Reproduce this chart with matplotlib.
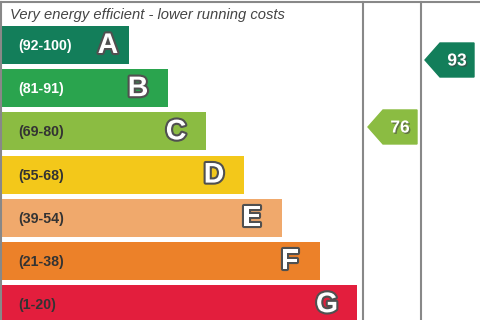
import matplotlib.pyplot as plt
from matplotlib.patches import Polygon
import matplotlib.patheffects as pe

plt.rcParams['font.family'] = ['Liberation Sans', 'DejaVu Sans']

# bands of the rating scale
letters = ['A', 'B', 'C', 'D', 'E', 'F', 'G']
ranges = ['(92-100)', '(81-91)', '(69-80)', '(55-68)', '(39-54)', '(21-38)', '(1-20)']
bar_len = [129, 168, 206, 244, 282, 320, 357]
colors = ['#137e5a', '#2aa44e', '#8bbc42', '#f3c81a', '#f0a96c', '#ec8129', '#e31e3d']
label_colors = ['white', 'white', '#333333', '#333333', '#333333', '#333333', '#333333']

# current / potential ratings
current = 76
potential = 93
current_col = colors[2]
potential_col = colors[0]

fig = plt.figure(figsize=(4.8, 3.2), dpi=100)
ax = fig.add_axes([0, 0, 1, 1])
ax.set_xlim(0, 480)
ax.set_ylim(320, 0)
ax.axis('off')

pitch = 43.2
ys = [26 + 19 + pitch * i for i in range(len(letters))]
ax.barh(ys, [b - 2 for b in bar_len], left=2, height=38, color=colors)

outline = [pe.Stroke(linewidth=3, foreground='#505050'), pe.Normal()]
for i, (l, r) in enumerate(zip(letters, ranges)):
    ax.text(18, ys[i] + 1, r, fontsize=10.2, fontweight='bold', color=label_colors[i],
            ha='left', va='center')
    off = 21 if i == 0 else 30
    ax.text(bar_len[i] - off, ys[i] + 1, l, fontsize=20.5, fontweight='bold', color='white',
            ha='center', va='center', path_effects=outline)

ax.text(10, 15, 'Very energy efficient - lower running costs', fontsize=10.6,
        style='italic', color='#444444', ha='left', va='center')

# frame lines
ax.plot([0, 480], [2, 2], color='#888888', lw=1.5)
ax.plot([1, 1], [2, 320], color='#888888', lw=1.5)
ax.plot([363, 363], [2, 320], color='#888888', lw=1.5)
ax.plot([421, 421], [2, 320], color='#888888', lw=1.5)


def score_y(v):
    return 60 + (93 - v) * 3.94


def arrow(x0, v, col):
    yc = score_y(v)
    h = 17
    pts = [(x0, yc), (x0 + 15, yc - h), (x0 + 49, yc - h), (x0 + 49, yc + h), (x0 + 15, yc + h)]
    ax.add_patch(Polygon(pts, closed=True, color=col))
    ax.text(x0 + 32, yc + 1, str(v), fontsize=12.5, fontweight='bold', color='white',
            ha='center', va='center',
            path_effects=[pe.withSimplePatchShadow(offset=(1, -1), shadow_rgbFace='#444444', alpha=0.6)])


arrow(368, current, current_col)
arrow(425, potential, potential_col)

fig.savefig('out.png', dpi=100)
